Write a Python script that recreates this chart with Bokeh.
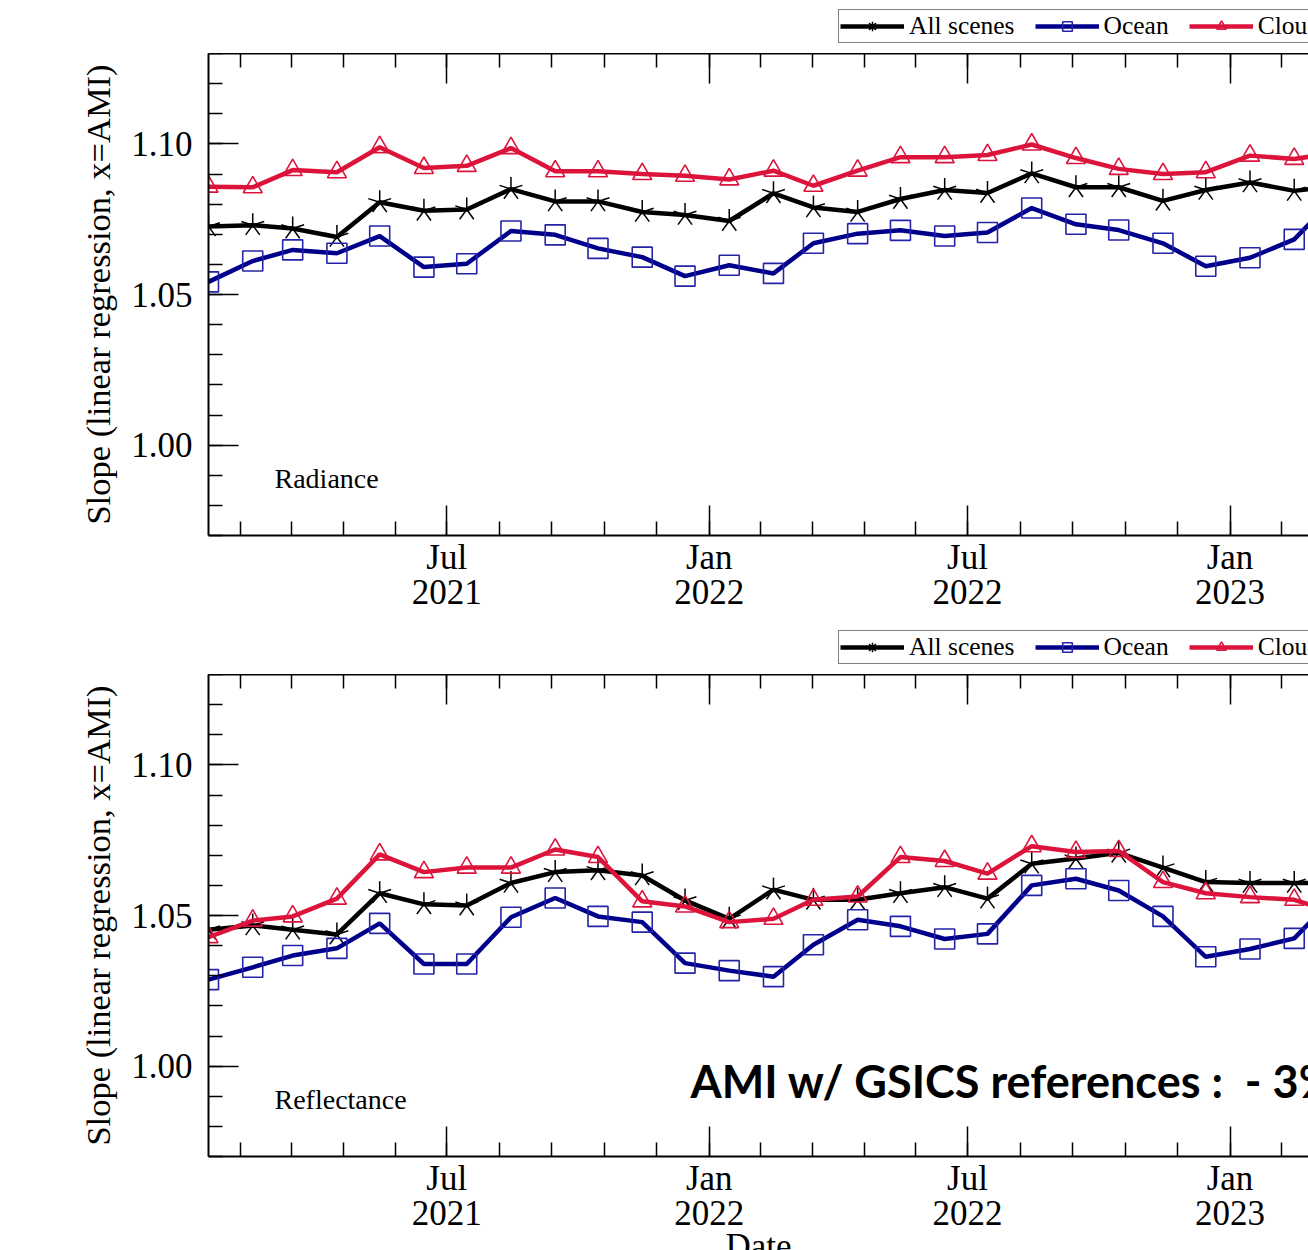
import numpy as np
import pandas as pd
from bokeh.plotting import figure
from bokeh.models import (FixedTicker, LinearAxis, Range1d, Label, Legend,
                          LegendItem, NumeralTickFormatter)
from bokeh.layouts import column
from bokeh.embed import file_html
from bokeh.resources import INLINE

# ---------------- data ----------------
dates = ["2021-01-15", "2021-02-15", "2021-03-15", "2021-04-15", "2021-05-15",
         "2021-06-15", "2021-07-15", "2021-08-15", "2021-09-15", "2021-10-15",
         "2021-11-15", "2021-12-15", "2022-01-15", "2022-02-15", "2022-03-15",
         "2022-04-15", "2022-05-15", "2022-06-15", "2022-07-15", "2022-08-15",
         "2022-09-15", "2022-10-15", "2022-11-15", "2022-12-15", "2023-01-15",
         "2023-02-15", "2023-03-15"]

all_rad = [1.0726, 1.0730, 1.0719, 1.0691, 1.0806, 1.0778, 1.0782, 1.0850, 1.0809,
           1.0809, 1.0774, 1.0764, 1.0744, 1.0836, 1.0789, 1.0774, 1.0817, 1.0847,
           1.0837, 1.0902, 1.0856, 1.0856, 1.0811, 1.0847, 1.0872, 1.0844, 1.0860]
ocean_rad = [1.0542, 1.0611, 1.0648, 1.0637, 1.0694, 1.0591, 1.0602, 1.0711, 1.0698,
             1.0653, 1.0624, 1.0561, 1.0597, 1.0570, 1.0670, 1.0702, 1.0713, 1.0694,
             1.0706, 1.0787, 1.0733, 1.0714, 1.0670, 1.0594, 1.0622, 1.0683, 1.0820]
cloud_rad = [1.0858, 1.0856, 1.0913, 1.0906, 1.0989, 1.0920, 1.0927, 1.0986, 1.0909,
             1.0909, 1.0900, 1.0894, 1.0882, 1.0911, 1.0861, 1.0911, 1.0956, 1.0956,
             1.0963, 1.0998, 1.0953, 1.0917, 1.0900, 1.0906, 1.0961, 1.0950, 1.0970]

all_ref = [1.0453, 1.0467, 1.0453, 1.0437, 1.0574, 1.0537, 1.0533, 1.0608, 1.0644,
           1.0650, 1.0633, 1.0550, 1.0489, 1.0586, 1.0552, 1.0552, 1.0574, 1.0594,
           1.0556, 1.0672, 1.0689, 1.0708, 1.0659, 1.0611, 1.0608, 1.0608, 1.0608]
ocean_ref = [1.0287, 1.0328, 1.0367, 1.0391, 1.0474, 1.0339, 1.0339, 1.0494, 1.0558,
             1.0497, 1.0478, 1.0342, 1.0317, 1.0297, 1.0403, 1.0486, 1.0464, 1.0422,
             1.0439, 1.0600, 1.0622, 1.0583, 1.0497, 1.0363, 1.0389, 1.0424, 1.0560]
cloud_ref = [1.0428, 1.0483, 1.0497, 1.0556, 1.0703, 1.0644, 1.0659, 1.0659, 1.0719,
             1.0694, 1.0547, 1.0530, 1.0478, 1.0489, 1.0552, 1.0563, 1.0694, 1.0681,
             1.0639, 1.0730, 1.0711, 1.0714, 1.0611, 1.0574, 1.0561, 1.0552, 1.0510]

series_labels = ["All scenes", "Ocean", "Cloud"]
panel_names = ["Radiance", "Reflectance"]

x_tick_dates = ["2021-01-01", "2021-07-01", "2022-01-01", "2022-07-01",
                "2023-01-01", "2023-07-01"]
x_tick_labels = ["Jan\n2021", "Jul\n2021", "Jan\n2022", "Jul\n2022",
                 "Jan\n2023", "Jul\n2023"]
y_ticks = [1.00, 1.05, 1.10]

y_label = "Slope (linear regression, x=AMI)"
x_label = "Date"
note_text = "AMI w/ GSICS references :\u00a0 - 3%"

x_start = "2021-01-15"
x_visible_days = 771
y_min, y_max = 0.97, 1.13

# ---------------- helpers ----------------
EPOCH = pd.Timestamp("1970-01-01")


def ms(d):
    return (pd.Timestamp(d) - EPOCH).total_seconds() * 1000.0


x_ms = [ms(d) for d in dates]
major_ms = [ms(d) for d in x_tick_dates]
minor_ms = []
for a, b in zip(major_ms[:-1], major_ms[1:]):
    for k in range(5):
        minor_ms.append(a + (b - a) * k / 5.0)
minor_y = [round(v, 2) for v in np.arange(y_min, y_max + 0.001, 0.01)]

SERIF = "Liberation Serif"
BLACK = "#000000"
BLUE = "#00008B"
BLUE_M = "#2424A8"
RED = "#DC143C"
ARMS = [np.pi / 2 + k * 2 * np.pi / 5 for k in range(5)]
LW = 4.5


def style_axis(ax):
    ax.axis_line_width = 2
    ax.axis_line_color = BLACK
    ax.major_tick_in = 30
    ax.major_tick_out = 0
    ax.minor_tick_in = 14
    ax.minor_tick_out = 0
    ax.major_tick_line_width = 1.5
    ax.minor_tick_line_width = 1.5
    ax.major_tick_line_color = BLACK
    ax.minor_tick_line_color = BLACK


def make_legend_strip(y_all, y_ocean, y_cloud, height):
    # a thin strip above each panel that carries the panel's legend
    s = figure(width=1308, height=height, x_axis_location=None,
               y_axis_location=None, min_border=0, output_backend="svg",
               toolbar_location=None)
    s.xgrid.visible = False
    s.ygrid.visible = False
    s.outline_line_color = None
    s.border_fill_color = "white"
    a1 = s.line(x_ms, y_all, line_color=BLACK, line_width=LW, visible=False)
    a2 = s.scatter(x_ms, y_all, marker="asterisk", size=17, line_color=BLACK,
                   line_width=1.5, visible=False)
    o1 = s.line(x_ms, y_ocean, line_color=BLUE, line_width=LW, visible=False)
    o2 = s.scatter(x_ms, y_ocean, marker="square", size=17, fill_color=None,
                   line_color=BLUE_M, line_width=1.6, visible=False)
    c1 = s.line(x_ms, y_cloud, line_color=RED, line_width=LW, visible=False)
    c2 = s.scatter(x_ms, y_cloud, marker="triangle", size=16, fill_color=None,
                   line_color=RED, line_width=1.6, visible=False)
    legend = Legend(items=[LegendItem(label=series_labels[0], renderers=[a1, a2]),
                           LegendItem(label=series_labels[1], renderers=[o1, o2]),
                           LegendItem(label=series_labels[2], renderers=[c1, c2])],
                    location=(630, 10), orientation="horizontal",
                    border_line_color=BLACK, border_line_width=1.5,
                    background_fill_color="white", background_fill_alpha=1,
                    padding=1, spacing=20, margin=0, label_standoff=5,
                    glyph_width=64, glyph_height=24,
                    label_text_font=SERIF, label_text_font_size="25.5px",
                    label_text_color=BLACK)
    s.add_layout(legend)
    return s


def make_panel(name, y_all, y_ocean, y_cloud, bottom, with_xlabel):
    x0 = ms(x_start)
    x1 = x0 + x_visible_days * 86400000.0
    p = figure(frame_width=1100, frame_height=482, x_axis_type="datetime",
               x_range=Range1d(x0, x1), y_range=Range1d(y_min, y_max),
               output_backend="svg", toolbar_location=None,
               min_border_left=208, min_border_right=0,
               min_border_top=0, min_border_bottom=bottom)
    p.xgrid.visible = False
    p.ygrid.visible = False
    p.outline_line_color = None
    p.background_fill_color = "white"
    p.border_fill_color = "white"

    xa = p.xaxis[0]
    xa.ticker = FixedTicker(ticks=major_ms, minor_ticks=minor_ms)
    xa.major_label_overrides = {t: lab for t, lab in zip(major_ms, x_tick_labels)}
    xa.major_label_text_font = SERIF
    xa.major_label_text_font_size = "35px"
    xa.major_label_text_color = BLACK
    xa.major_label_text_line_height = 0.9
    xa.major_label_standoff = 2
    if with_xlabel:
        xa.axis_label = x_label
        xa.axis_label_text_font = SERIF
        xa.axis_label_text_font_size = "35px"
        xa.axis_label_text_font_style = "normal"
        xa.axis_label_text_color = BLACK
        xa.axis_label_standoff = -9
    style_axis(xa)

    ya = p.yaxis[0]
    ya.ticker = FixedTicker(ticks=y_ticks, minor_ticks=minor_y)
    ya.formatter = NumeralTickFormatter(format="0.00")
    ya.major_label_text_font = SERIF
    ya.major_label_text_font_size = "35px"
    ya.major_label_text_color = BLACK
    ya.major_label_standoff = 16
    ya.axis_label = y_label
    ya.axis_label_text_font = SERIF
    ya.axis_label_text_font_size = "34.5px"
    ya.axis_label_text_font_style = "normal"
    ya.axis_label_text_color = BLACK
    ya.axis_label_standoff = 11
    style_axis(ya)

    top = LinearAxis(ticker=FixedTicker(ticks=major_ms, minor_ticks=minor_ms),
                     major_label_overrides={t: "" for t in major_ms},
                     major_label_text_font_size="1px", major_label_standoff=0)
    style_axis(top)
    p.add_layout(top, "above")

    n = len(x_ms)
    p.line(x_ms, y_all, line_color=BLACK, line_width=LW)
    p.ray(x=np.repeat(x_ms, 5), y=np.repeat(y_all, 5), angle=np.tile(ARMS, n),
          length=12, length_units="screen", line_color=BLACK, line_width=1.5)
    p.line(x_ms, y_ocean, line_color=BLUE, line_width=LW)
    p.scatter(x_ms, y_ocean, marker="square", size=20, fill_color=None,
              line_color=BLUE_M, line_width=1.6)
    p.line(x_ms, y_cloud, line_color=RED, line_width=LW)
    p.scatter(x_ms, y_cloud, marker="triangle", size=19, fill_color=None,
              line_color=RED, line_width=1.6)

    p.add_layout(Label(x=66, y=57, x_units="screen", y_units="screen", text=name,
                       text_font=SERIF, text_font_size="28px",
                       text_baseline="middle", text_color=BLACK))
    return p


s1 = make_legend_strip(all_rad, ocean_rad, cloud_rad, 53)
p1 = make_panel(panel_names[0], all_rad, ocean_rad, cloud_rad, 87, False)
s2 = make_legend_strip(all_ref, ocean_ref, cloud_ref, 52)
p2 = make_panel(panel_names[1], all_ref, ocean_ref, cloud_ref, 94, True)

p2.add_layout(Label(x=482, y=76, x_units="screen", y_units="screen",
                    text=note_text, text_font="Lato", text_font_style="bold",
                    text_font_size="45px", text_baseline="middle",
                    text_color=BLACK))

layout = column(s1, p1, s2, p2, spacing=0)
html = file_html(layout, INLINE)
# the original figure is cropped at the window's lower edge: no scrollbars
html = html.replace("</head>", "<style>html,body{overflow:hidden;margin:0}</style></head>", 1)
open("out.html", "w").write(html)
